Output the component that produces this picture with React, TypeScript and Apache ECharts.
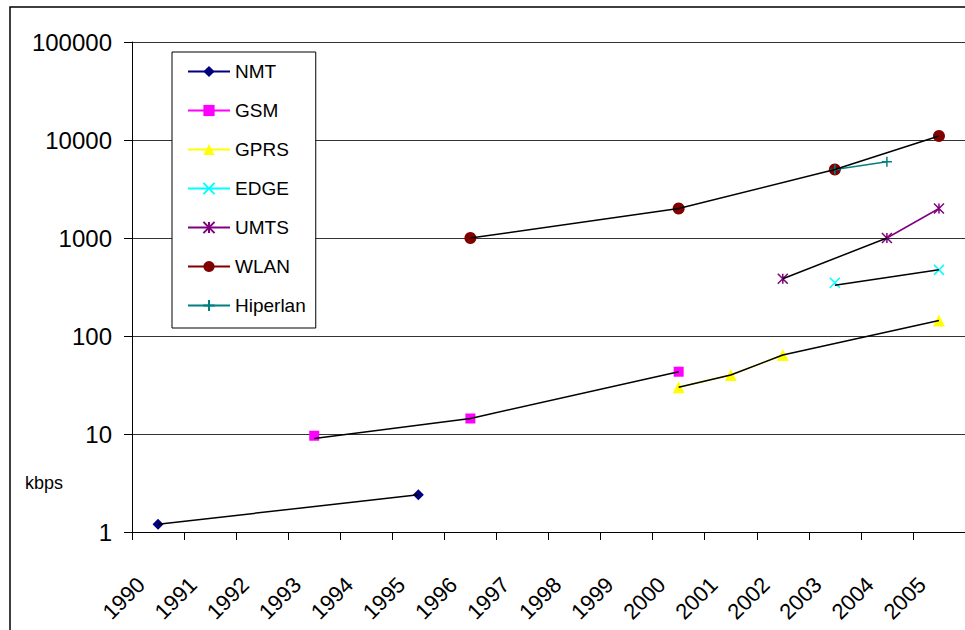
import React, { useEffect, useRef } from "react";
import * as echarts from "echarts";

const years = ["1990", "1991", "1992", "1993", "1994", "1995", "1996", "1997", "1998", "1999", "2000", "2001", "2002", "2003", "2004", "2005"];
const yTicks = [1, 10, 100, 1000, 10000, 100000];

const n = null;
// series values (kbps), one slot per year
const nmt = [1.2, n, n, n, n, 2.4, n, n, n, n, n, n, n, n, n, n];
const gsm = [n, n, n, 9.6, n, n, 14.4, n, n, n, 43.2, n, n, n, n, n];
const gprs = [n, n, n, n, n, n, n, n, n, n, 30, 40, 64, n, n, 144];
const edge = [n, n, n, n, n, n, n, n, n, n, n, n, n, 350, n, 473];
const umts = [n, n, n, n, n, n, n, n, n, n, n, n, 384, n, 1000, 2000];
const wlan = [n, n, n, n, n, n, 1000, n, n, n, 2000, n, n, 5000, n, 11000];
const hiperlan = [n, n, n, n, n, n, n, n, n, n, n, n, n, 5000, 6000, n];

// black connecting lines drawn over the markers
const nmtLine = [1.2, n, n, n, n, 2.4, n, n, n, n, n, n, n, n, n, n];
const gsmLine = [n, n, n, 9.0, n, n, 14.4, n, n, n, 43.2, n, n, n, n, n];
const gprsLine = [n, n, n, n, n, n, n, n, n, n, 30, 40, 64, n, n, 144];
const edgeLine = [n, n, n, n, n, n, n, n, n, n, n, n, n, 330, n, 473];
const umtsLine = [n, n, n, n, n, n, n, n, n, n, n, n, 384, n, 1000, n];
const wlanLine = [n, n, n, n, n, n, 1000, n, n, n, 2000, n, n, 5000, n, 11000];

const FONT = "Liberation Sans, Arial, sans-serif";
const SYM_X = "path://M0,0L10,10M10,0L0,10";
const SYM_STAR = "path://M0,0L10,10M10,0L0,10M5,0L5,10";
const SYM_PLUS = "path://M5,0L5,10M0,5L10,5";

function colored(name: string, data: any[], color: string, symbol: string, size: number, stroke = false) {
  return {
    name,
    type: "line",
    data,
    connectNulls: false,
    symbol,
    symbolSize: size,
    showAllSymbol: true,
    z: 2,
    lineStyle: { color, width: 1.5 },
    itemStyle: stroke
      ? { color: "rgba(0,0,0,0)", borderColor: color, borderWidth: 1.5 }
      : { color, borderColor: color, borderWidth: 0 },
    emphasis: { disabled: true },
    silent: true,
  };
}

function black(name: string, data: any[]) {
  return {
    name,
    type: "line",
    data,
    connectNulls: true,
    symbol: "none",
    z: 3,
    lineStyle: { color: "#000", width: 1.5 },
    emphasis: { disabled: true },
    silent: true,
  };
}

export default function App() {
  const ref = useRef<HTMLDivElement>(null);
  useEffect(() => {
    if (!ref.current) return;
    const chart = echarts.init(ref.current, undefined, { renderer: "svg" });
    chart.setOption({
      animation: false,
      backgroundColor: "#fff",
      textStyle: { fontFamily: FONT },
      grid: { left: 132, top: 42, right: 0, bottom: 98, containLabel: false, outerBoundsMode: "none" },
      legend: {
        data: ["NMT", "GSM", "GPRS", "EDGE", "UMTS", "WLAN", "Hiperlan"],
        orient: "vertical",
        left: 172,
        top: 52,
        padding: [10, 10, 13, 15],
        itemGap: 20,
        itemWidth: 42,
        itemHeight: 14,
        backgroundColor: "#fff",
        borderColor: "#000",
        borderWidth: 1,
        borderRadius: 0,
        textStyle: { fontSize: 19, color: "#000", fontFamily: FONT },
        selectedMode: false,
      },
      xAxis: {
        type: "category",
        data: years,
        boundaryGap: true,
        axisLine: { lineStyle: { color: "#000", width: 1 } },
        axisTick: { show: true, length: 8, inside: false, alignWithLabel: false, interval: 0, lineStyle: { color: "#000" } },
        axisLabel: {
          interval: 0,
          rotate: 45,
          margin: 32,
          fontSize: 22,
          color: "#000",
          fontFamily: FONT,
          padding: [0, 24, 0, 0],
        },
        splitLine: { show: false },
      },
      yAxis: {
        type: "log",
        logBase: 10,
        min: yTicks[0],
        max: yTicks[yTicks.length - 1],
        axisLine: { show: true, lineStyle: { color: "#000", width: 1 } },
        axisTick: { show: true, length: 8, inside: false, lineStyle: { color: "#000" } },
        axisLabel: { fontSize: 24, color: "#000", margin: 20, fontFamily: FONT, formatter: (v: number) => String(v) },
        splitLine: { show: true, lineStyle: { color: "#333", width: 1 } },
        minorTick: { show: false },
      },
      graphic: [
        {
          type: "rect",
          shape: { x: 10, y: 7, width: 1000, height: 700 },
          style: { fill: "none", stroke: "#000", lineWidth: 1.5 },
          silent: true,
          z: 100,
        },
        {
          type: "text",
          x: 25,
          y: 483,
          style: { text: "kbps", fontSize: 18, fill: "#000", fontFamily: FONT, verticalAlign: "middle" },
          silent: true,
        },
      ],
      series: [
        colored("NMT", nmt, "#000080", "diamond", 11),
        colored("GSM", gsm, "#FF00FF", "rect", 10),
        colored("GPRS", gprs, "#FFFF00", "triangle", 12),
        colored("EDGE", edge, "#00FFFF", SYM_X, 10, true),
        colored("UMTS", umts, "#800080", SYM_STAR, 10, true),
        colored("WLAN", wlan, "#800000", "circle", 12),
        colored("Hiperlan", hiperlan, "#008080", SYM_PLUS, 10, true),
        black("NMT line", nmtLine),
        black("GSM line", gsmLine),
        black("GPRS line", gprsLine),
        black("EDGE line", edgeLine),
        black("UMTS line", umtsLine),
        black("WLAN line", wlanLine),
      ],
    });
    return () => chart.dispose();
  }, []);
  return <div ref={ref} style={{ position: "fixed", left: 0, top: 0, width: 965, height: 630 }} />;
}
